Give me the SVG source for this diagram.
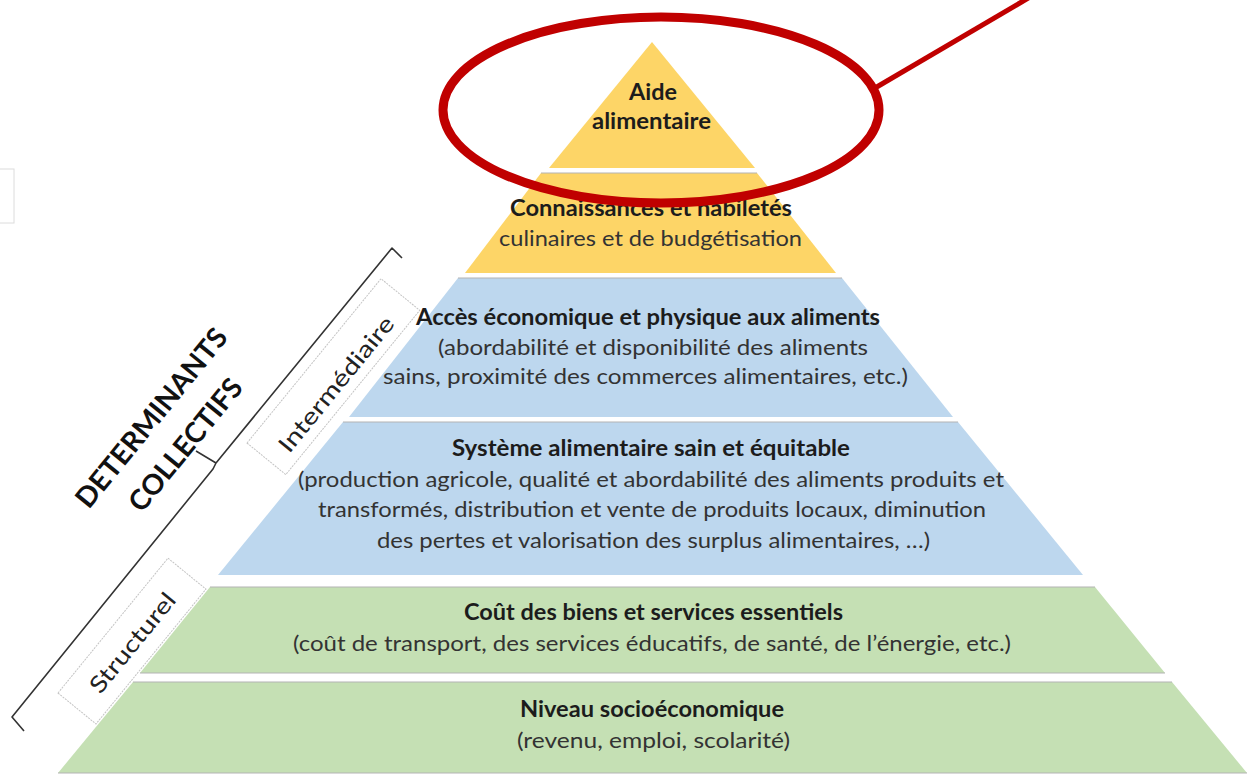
<svg xmlns="http://www.w3.org/2000/svg" width="1252" height="778" viewBox="0 0 1252 778">
<style>
.yel{fill:#FDD567}
.blu{fill:#BDD7EE}
.grn{fill:#C5E0B4}
.edge{stroke:#b4b4b4;stroke-width:1.2;fill:none}
.b{font-family:Lato,"Liberation Sans",sans-serif;font-weight:bold;font-size:22px;fill:#1c1c1c;text-anchor:middle}
.r{font-family:Lato,"Liberation Sans",sans-serif;font-size:22px;fill:#333;text-anchor:middle}
.lab{font-family:Lato,"Liberation Sans",sans-serif;font-size:23px;fill:#222;text-anchor:middle}
.big{font-family:Lato,"Liberation Sans",sans-serif;font-weight:bold;font-size:28px;fill:#111;text-anchor:middle}
.box{fill:#fff;stroke:#c4c4c4;stroke-width:1;stroke-dasharray:2 1}
.red{stroke:#C00000;fill:none}
</style>
<rect width="1252" height="778" fill="#fff"/>
<rect x="-2" y="169" width="16" height="54" fill="none" stroke="#dcdcdc" stroke-width="1"/>

<g id="label-structurel" transform="translate(58,693) rotate(-50.8)">
<rect class="box" x="0" y="0" width="174" height="49"/>
<text class="lab" x="86" y="34" textLength="122" lengthAdjust="spacingAndGlyphs">Structurel</text>
</g>
<g id="label-intermediaire" transform="translate(247,443) rotate(-50.8)">
<rect class="box" x="0" y="0" width="212" height="50"/>
<text class="lab" x="102" y="40" textLength="168" lengthAdjust="spacingAndGlyphs">Intermédiaire</text>
</g>
<g id="label-determinants">
<path d="M402,258 L392,248 L216,463 L196,451 M216,463 L213,469 L12,717 L24,731" fill="none" stroke="#333" stroke-width="1.6" stroke-linejoin="round"/>
<text class="big" transform="translate(159,424) rotate(-50.8)" textLength="222" lengthAdjust="spacingAndGlyphs">DETERMINANTS</text>
<text class="big" transform="translate(193,451) rotate(-50.8)" textLength="162" lengthAdjust="spacingAndGlyphs">COLLECTIFS</text>
</g>

<g id="layer-1">
<polygon class="yel" points="652,42 755,168 549,168"/>
<text class="b" x="653" y="100" textLength="48" lengthAdjust="spacingAndGlyphs">Aide</text>
<text class="b" x="651.5" y="129" textLength="119" lengthAdjust="spacingAndGlyphs">alimentaire</text>
</g>
<g id="layer-2">
<polygon class="yel" points="541,173 757,173 836,273 465,273"/>
<line class="edge" x1="541" y1="173" x2="757" y2="173"/>
<text class="b" x="651" y="216" textLength="282" lengthAdjust="spacingAndGlyphs">Connaissances et habiletés</text>
<text class="r" x="650.5" y="246" textLength="303" lengthAdjust="spacingAndGlyphs">culinaires et de budgétisation</text>
</g>
<g id="layer-3">
<polygon class="blu" points="458,278 842,278 953,417 349,417"/>
<line class="edge" x1="458" y1="278" x2="842" y2="278"/>
<text class="b" x="648" y="325" textLength="464" lengthAdjust="spacingAndGlyphs">Accès économique et physique aux aliments</text>
<text class="r" x="653" y="355" textLength="430" lengthAdjust="spacingAndGlyphs">(abordabilité et disponibilité des aliments</text>
<text class="r" x="645.5" y="384" textLength="525" lengthAdjust="spacingAndGlyphs">sains, proximité des commerces alimentaires, etc.)</text>
</g>
<g id="layer-4">
<polygon class="blu" points="343,422 958,422 1083,575 218,575"/>
<line class="edge" x1="343" y1="422" x2="958" y2="422"/>
<text class="b" x="651" y="456" textLength="398" lengthAdjust="spacingAndGlyphs">Système alimentaire sain et équitable</text>
<text class="r" x="651" y="487" textLength="706" lengthAdjust="spacingAndGlyphs">(production agricole, qualité et abordabilité des aliments produits et</text>
<text class="r" x="652" y="517" textLength="668" lengthAdjust="spacingAndGlyphs">transformés, distribution et vente de produits locaux, diminution</text>
<text class="r" x="653.5" y="548" textLength="553" lengthAdjust="spacingAndGlyphs">des pertes et valorisation des surplus alimentaires, …)</text>
</g>
<g id="layer-5">
<polygon class="grn" points="210,587 1095,587 1165,673 140,673"/>
<line class="edge" x1="210" y1="587" x2="1095" y2="587"/>
<line class="edge" x1="140" y1="673" x2="1165" y2="673"/>
<text class="b" x="653.5" y="620" textLength="379" lengthAdjust="spacingAndGlyphs">Coût des biens et services essentiels</text>
<text class="r" x="652" y="651" textLength="718" lengthAdjust="spacingAndGlyphs">(coût de transport, des services éducatifs, de santé, de l’énergie, etc.)</text>
</g>
<g id="layer-6">
<polygon class="grn" points="133,682 1172,682 1247,773 58,773"/>
<line class="edge" x1="133" y1="682" x2="1172" y2="682"/>
<line class="edge" x1="58" y1="773" x2="1247" y2="773"/>
<text class="b" x="652" y="717" textLength="264" lengthAdjust="spacingAndGlyphs">Niveau socioéconomique</text>
<text class="r" x="653.5" y="748" textLength="273" lengthAdjust="spacingAndGlyphs">(revenu, emploi, scolarité)</text>
</g>

<g id="connectors">
<ellipse class="red" cx="661" cy="110" rx="218" ry="93" stroke-width="9"/>
<line class="red" x1="875" y1="88" x2="1042" y2="-10" stroke-width="5"/>
</g>
</svg>
